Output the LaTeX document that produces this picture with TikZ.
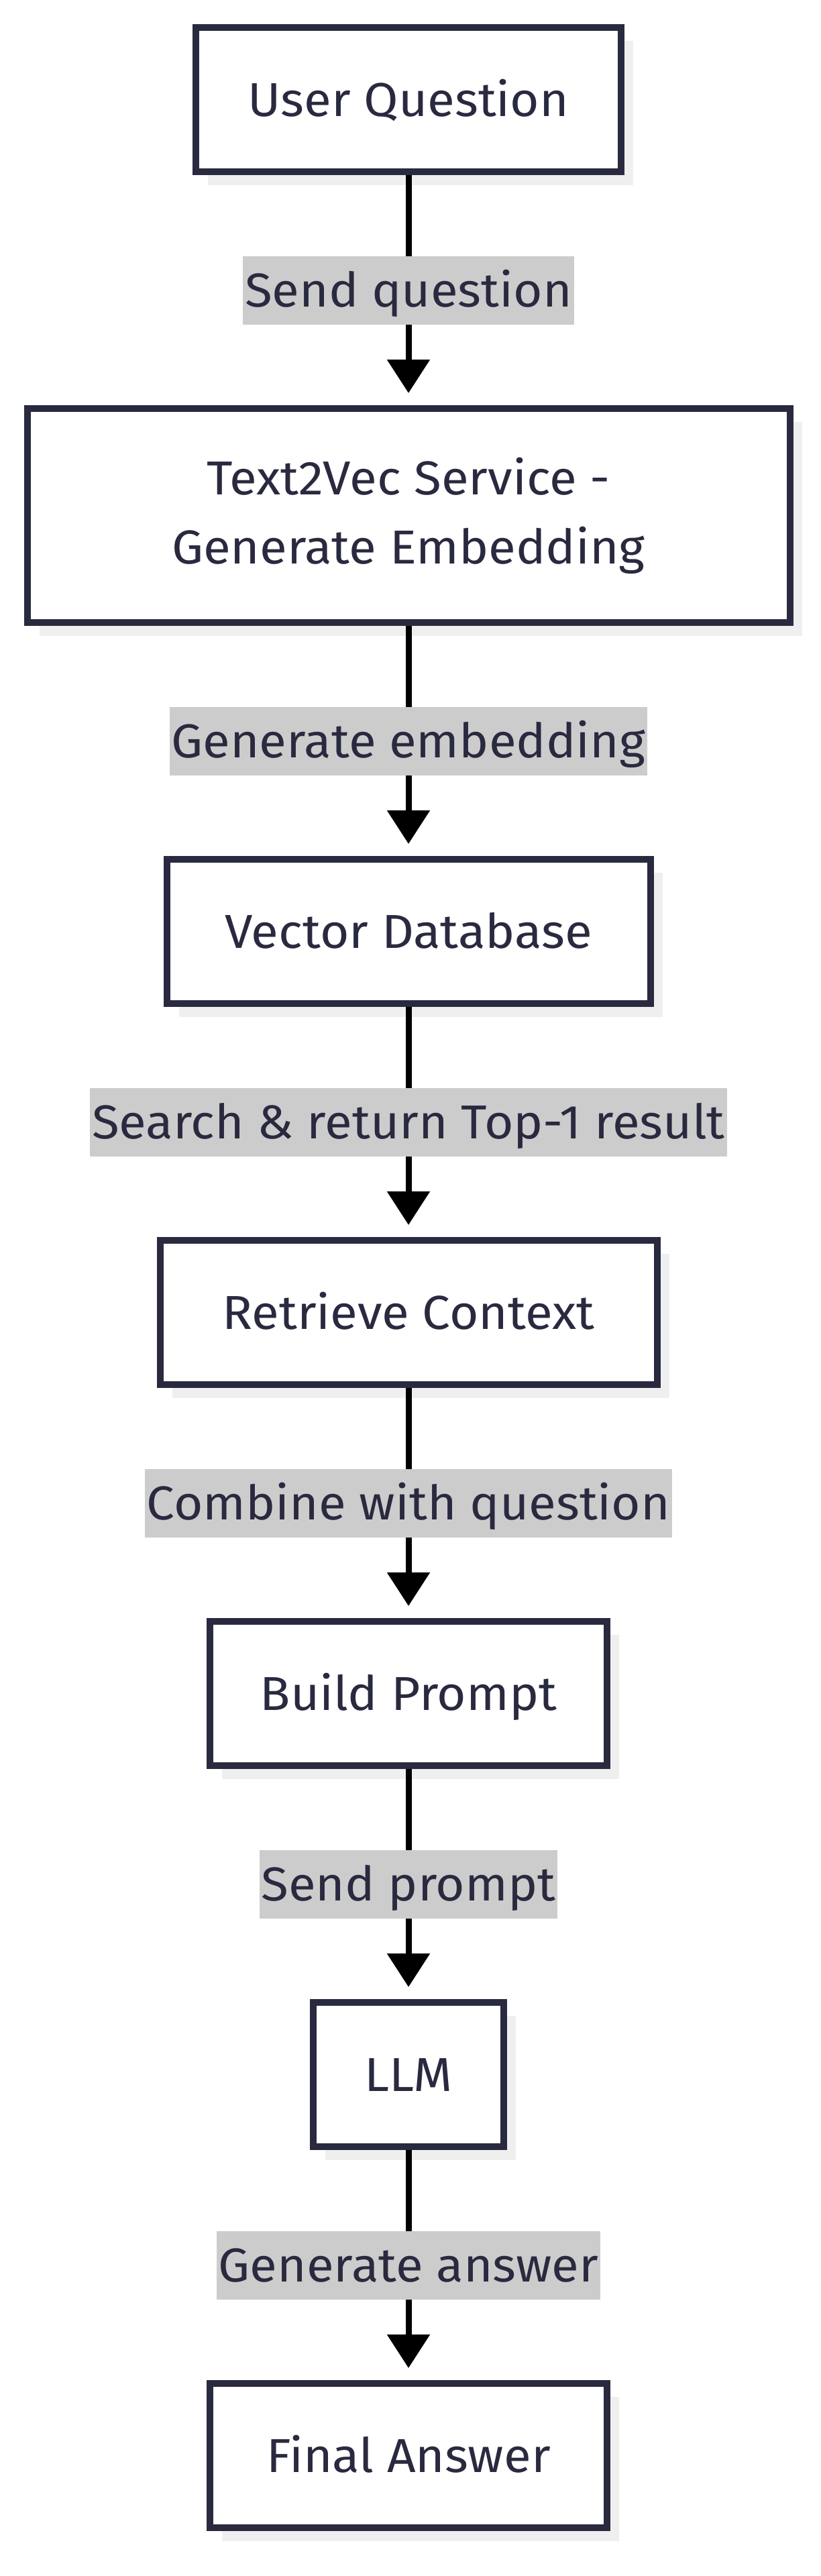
\documentclass[tikz,border=0pt]{standalone}
\usepackage{fontspec}
\setmainfont{Fira Sans}[FakeStretch=1.05]
\usepackage{tikz}
\usetikzlibrary{arrows.meta}
\usetikzlibrary{positioning}
\usetikzlibrary{shadows}

\definecolor{boxline}{HTML}{29293F}
\definecolor{lblfill}{HTML}{CCCCCC}
\definecolor{shade}{HTML}{EFEFEF}

\begin{document}
\begin{tikzpicture}[
          -{Triangle[length=25pt,width=31pt]}, line width=4.5pt,
          node distance=171.5pt,
          every node/.style={font=\fontsize{35.5pt}{51.5pt}\selectfont, text=boxline}
        ]

          % styles
          \tikzstyle{box}=[rectangle, draw=boxline, line width=5pt, fill=white, minimum height=107.5pt, text height=24.5pt, text depth=0pt, align=center, drop shadow={shadow xshift=9pt, shadow yshift=-10pt, fill=shade, opacity=1}]
          \tikzstyle{lbl}=[rectangle, fill=lblfill, inner xsep=1.5pt, inner ysep=0pt, minimum height=51pt, text height=24.5pt, text depth=0pt]
          \tikzstyle{flow}=[shorten >=9pt]

          \useasboundingbox (0,0) rectangle (612pt,-1920pt);

          % pipeline steps
          \node[box, minimum width=317pt] (question) at (304.5pt,-74.25pt) {User Question};
          \node[box, below=of question, minimum width=568.5pt, minimum height=159.5pt, text height={}, text depth={}] (text2vec) {Text2Vec Service -\\Generate Embedding};
          \node[box, below=of text2vec, minimum width=360.5pt] (vectordb) {Vector Database};
          \node[box, below=of vectordb, minimum width=370.5pt] (retrieve) {Retrieve Context};
          \node[box, below=of retrieve, minimum width=296pt] (prompt) {Build Prompt};
          \node[box, below=of prompt, minimum width=142pt] (llm) {LLM};
          \node[box, below=of llm, minimum width=296pt] (answer) {Final Answer};

          % edges
          \draw[flow] (question) -- node[lbl] {Send question} (text2vec);
          \draw[flow] (text2vec) -- node[lbl] {Generate embedding} (vectordb);
          \draw[flow] (vectordb) -- node[lbl] {Search \& return Top-1 result} (retrieve);
          \draw[flow] (retrieve) -- node[lbl] {Combine with question} (prompt);
          \draw[flow] (prompt) -- node[lbl] {Send prompt} (llm);
          \draw[flow] (llm) -- node[lbl] {Generate answer} (answer);

        \end{tikzpicture}
\end{document}
